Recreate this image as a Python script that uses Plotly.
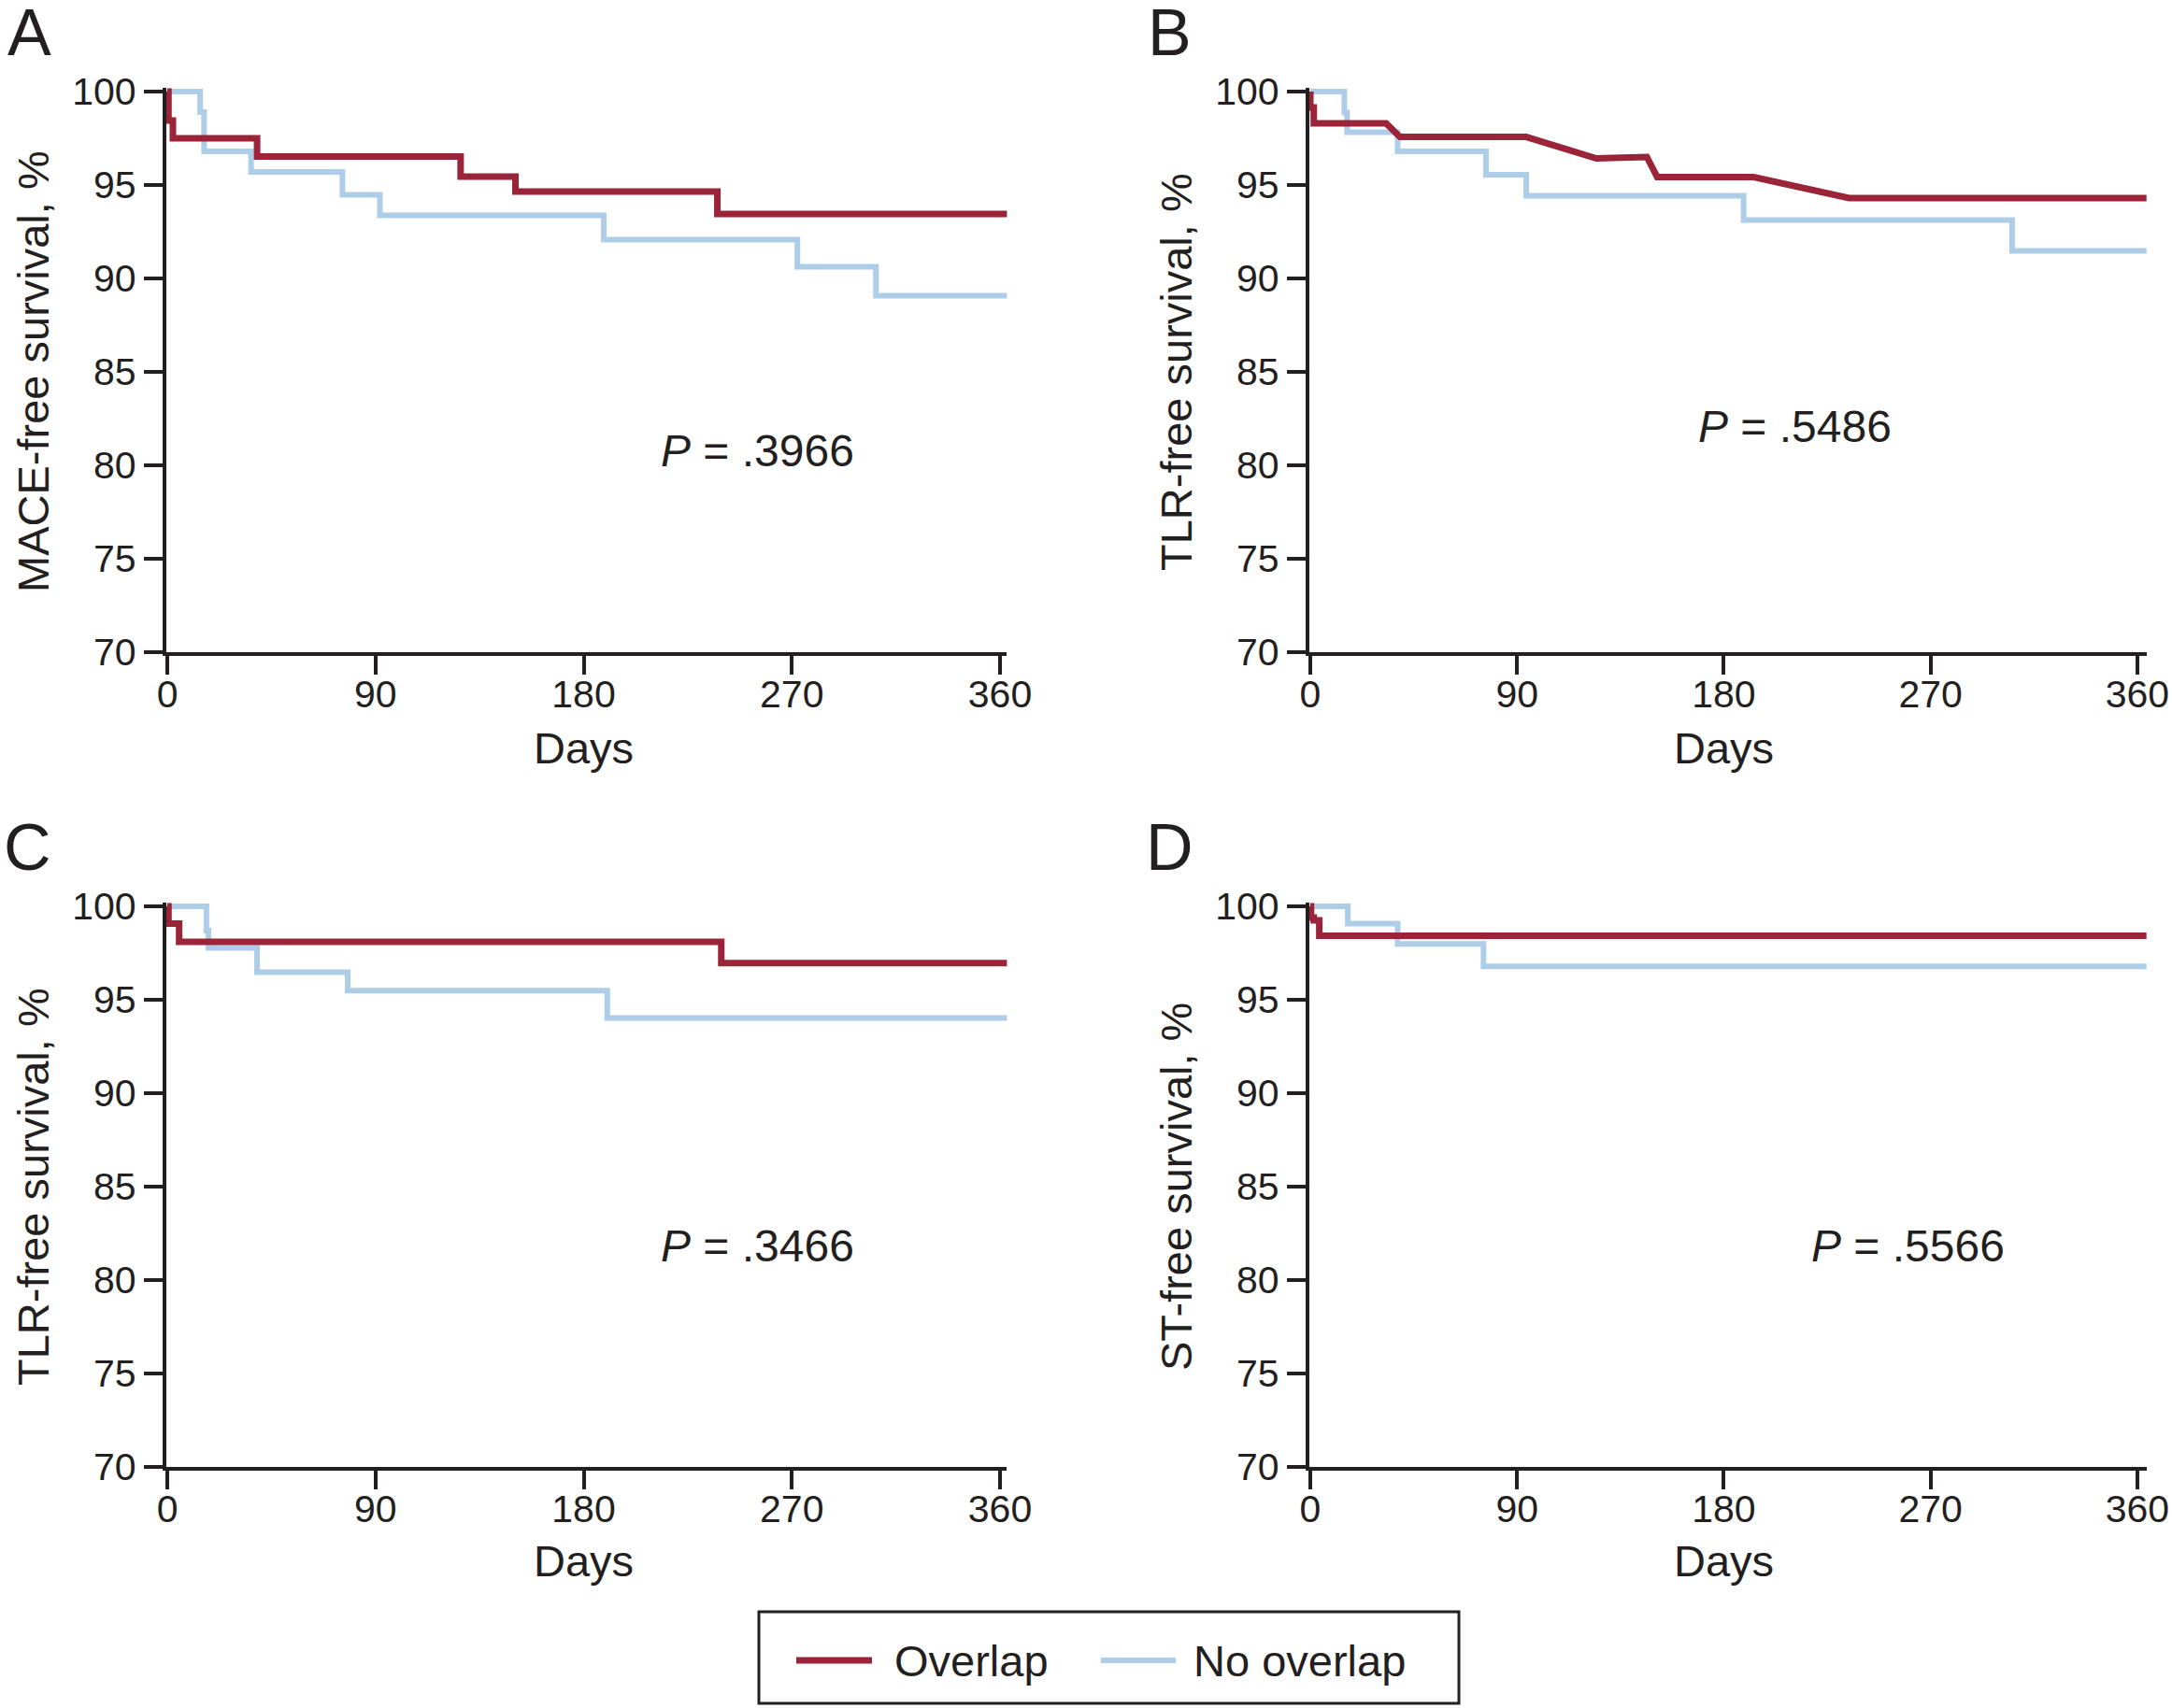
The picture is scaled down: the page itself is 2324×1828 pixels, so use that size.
import plotly.graph_objects as go

# ---------------- data ----------------
x_tick_vals = [0, 90, 180, 270, 360]
y_tick_vals = [70, 75, 80, 85, 90, 95, 100]

panel_letters = ["A", "B", "C", "D"]
y_titles = ["MACE-free survival, %", "TLR-free survival, %",
            "TLR-free survival, %", "ST-free survival, %"]
x_title = "Days"
p_texts = ["<i>P</i> = .3966", "<i>P</i> = .5486", "<i>P</i> = .3466", "<i>P</i> = .5566"]
p_days = [255, 211, 255, 260]
p_surv = [80.8, 82.1, 81.85, 81.85]

series_names = ["Overlap", "No overlap"]

# Panel A (MACE)
a_overlap_days = [0, 0.5, 2.4, 38.8, 126.8, 150.5, 237.8, 365]
a_overlap_surv = [100, 98.45, 97.5, 96.53, 95.45, 94.65, 93.45, 93.45]
a_noov_days = [0, 14.2, 15.9, 36.2, 75.7, 91.9, 188.7, 272.4, 306.4, 365]
a_noov_surv = [100, 98.9, 96.8, 95.7, 94.48, 93.38, 92.07, 90.63, 89.08, 89.08]

# Panel B (TLR) - overlap curve is drawn with sloped segments
b_overlap_days = [0, 0, 1.5, 1.5, 33, 39, 94, 124.5, 146.5, 151, 193, 234.5, 365]
b_overlap_surv = [100, 99.15, 99.15, 98.3, 98.3, 97.57, 97.57, 96.42, 96.5, 95.42, 95.42, 94.3, 94.3]
b_noov_days = [0, 14.8, 16, 38, 76.5, 94, 188.6, 305.5, 365]
b_noov_surv = [100, 98.88, 97.83, 96.8, 95.55, 94.42, 93.13, 91.47, 91.47]

# Panel C (TLR)
c_overlap_days = [0, 0.5, 5.1, 239.5, 365]
c_overlap_surv = [100, 99.08, 98.1, 96.96, 96.96]
c_noov_days = [0, 16.9, 17.8, 38.8, 78, 190.2, 368]
c_noov_surv = [100, 98.7, 97.77, 96.47, 95.49, 94.02, 94.02]

# Panel D (ST)
d_overlap_days = [0, 0.3, 1.5, 3.9, 365]
d_overlap_surv = [100, 99.4, 99.25, 98.42, 98.42]
d_noov_days = [0, 16.3, 38, 75.4, 365]
d_noov_surv = [100, 99.08, 97.99, 96.79, 96.79]

# ---------------- styling / layout ----------------
W, H = 2324, 1828
RED = "#9B2439"
BLUE = "#AECDE9"
INK = "#231F20"
FONT = "Liberation Sans, Arial, Helvetica, sans-serif"

overlap_days = [a_overlap_days, b_overlap_days, c_overlap_days, d_overlap_days]
overlap_surv = [a_overlap_surv, b_overlap_surv, c_overlap_surv, d_overlap_surv]
noov_days = [a_noov_days, b_noov_days, c_noov_days, d_noov_days]
noov_surv = [a_noov_surv, b_noov_surv, c_noov_surv, d_noov_surv]
overlap_shape = ["hv", "linear", "hv", "hv"]

# plot-area placement in pixels
x_ranges = [[-0.5, 363], [-0.5, 364], [-0.5, 363], [-0.5, 364]]
y_range = [70, 100.2]
x_dom_px = [(177.8, 1077.4), (1400.8, 2296.7), (177.8, 1077.4), (1400.8, 2296.7)]
y_dom_px = [(94, 698), (94, 698), (966, 1570), (966, 1570)]
letter_pos = [(31, 35), (1251, 35), (29, 907), (1251, 907)]
ytitle_x = [35, 1258, 35, 1258]
xtitle_y = [800, 800, 1670, 1670]


def px(x):
    return x / W


def py(y):
    return 1 - y / H


fig = go.Figure()
layout_axes = {}
annotations = []
shapes = []

for i in range(4):
    sfx = "" if i == 0 else str(i + 1)
    xref, yref = "x" + sfx, "y" + sfx
    fig.add_trace(go.Scatter(
        x=noov_days[i], y=noov_surv[i], mode="lines",
        line=dict(color=BLUE, width=6, shape="hv"),
        name=series_names[1], showlegend=False,
        xaxis=xref, yaxis=yref, hoverinfo="skip"))
    fig.add_trace(go.Scatter(
        x=overlap_days[i], y=overlap_surv[i], mode="lines",
        line=dict(color=RED, width=7, shape=overlap_shape[i]),
        name=series_names[0], showlegend=False,
        xaxis=xref, yaxis=yref, hoverinfo="skip"))

    common = dict(showline=True, linewidth=4, linecolor=INK, ticks="outside",
                  ticklen=20, tickwidth=4, tickcolor=INK, showgrid=False,
                  zeroline=False, automargin=False,
                  tickfont=dict(family=FONT, size=41, color=INK))
    xl, xr = x_dom_px[i]
    yt, yb = y_dom_px[i]
    layout_axes["xaxis" + sfx] = dict(
        common, domain=[px(xl), px(xr)], range=x_ranges[i],
        tickvals=x_tick_vals, anchor=yref, ticklabelstandoff=-14)
    layout_axes["yaxis" + sfx] = dict(
        common, domain=[py(yb), py(yt)], range=y_range,
        tickvals=y_tick_vals, anchor=xref)

    lx, ly = letter_pos[i]
    annotations.append(dict(text=panel_letters[i], xref="paper", yref="paper",
                            x=px(lx), y=py(ly), xanchor="center", yanchor="middle",
                            showarrow=False, font=dict(family=FONT, size=70, color=INK)))
    annotations.append(dict(text=y_titles[i], xref="paper", yref="paper",
                            x=px(ytitle_x[i]), y=py((yt + 4 + yb) / 2),
                            xanchor="center", yanchor="middle", textangle=-90,
                            showarrow=False, font=dict(family=FONT, size=47, color=INK)))
    annotations.append(dict(text=x_title, xref=xref, yref="paper",
                            x=180, y=py(xtitle_y[i]),
                            xanchor="center", yanchor="middle",
                            showarrow=False, font=dict(family=FONT, size=47, color=INK)))
    annotations.append(dict(text=p_texts[i], xref=xref, yref=yref,
                            x=p_days[i], y=p_surv[i], xanchor="center", yanchor="middle",
                            showarrow=False, font=dict(family=FONT, size=48, color=INK)))

# ---------------- legend (box, line samples, labels) ----------------
legend_colors = [RED, BLUE]
legend_widths = [7, 6]
legend_sample_px = [(852, 933), (1178, 1258)]
legend_text_px = [957, 1277]
legend_y = 1777
shapes.append(dict(type="rect", xref="paper", yref="paper",
                   x0=px(812), x1=px(1561), y0=py(1823), y1=py(1725),
                   line=dict(color=INK, width=3), fillcolor="white", layer="above"))
for k in range(2):
    s0, s1 = legend_sample_px[k]
    shapes.append(dict(type="line", xref="paper", yref="paper",
                       x0=px(s0), x1=px(s1), y0=py(legend_y), y1=py(legend_y),
                       line=dict(color=legend_colors[k], width=legend_widths[k]),
                       layer="above"))
    annotations.append(dict(text=series_names[k], xref="paper", yref="paper",
                            x=px(legend_text_px[k] - 2), y=py(legend_y),
                            xanchor="left", yanchor="middle", showarrow=False,
                            font=dict(family=FONT, size=47, color=INK)))

fig.update_layout(
    width=W, height=H,
    margin=dict(l=0, r=0, t=0, b=0, autoexpand=False),
    paper_bgcolor="white", plot_bgcolor="white",
    font=dict(family=FONT, color=INK),
    showlegend=False,
    annotations=annotations,
    shapes=shapes,
    **layout_axes,
)

fig.write_html(
    "out.html",
    config={"displayModeBar": False},
    post_script="document.body.style.margin='0px';"
                "document.body.style.padding='0px';"
                "document.body.style.overflow='hidden';",
)
